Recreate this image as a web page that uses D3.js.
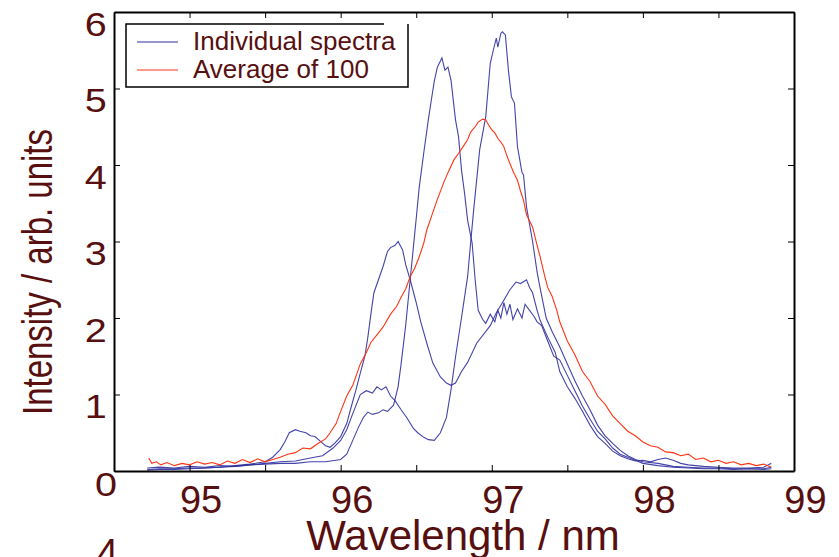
<!DOCTYPE html>
<html>
<head>
<meta charset="utf-8">
<script src="https://cdn.jsdelivr.net/npm/d3@7"></script>
<style>
  body { margin: 0; background: #fff; }
  svg text { font-family: "Liberation Sans", Arial, sans-serif; }
</style>
</head>
<body>
<div id="chart"></div>
<script>
// wavelength (nm), intensity (arb. units)
const spectrum1 = [
  [94.72,0.02],[94.8,0.03],[94.9,0.03],[95.0,0.04],[95.1,0.04],[95.2,0.05],[95.3,0.06],[95.4,0.08],
  [95.5,0.1],[95.6,0.12],[95.7,0.13],[95.8,0.17],[95.88,0.2],[95.95,0.3],[96.0,0.4],[96.04,0.54],
  [96.08,0.75],[96.13,1.0],[96.17,1.05],[96.21,1.02],[96.24,1.1],[96.27,1.06],[96.3,1.1],[96.33,0.98],
  [96.36,0.92],[96.4,0.8],[96.44,0.69],[96.48,0.56],[96.51,0.5],[96.55,0.44],[96.58,0.41],[96.62,0.4],
  [96.66,0.5],[96.7,0.7],[96.73,1.06],[96.76,1.49],[96.8,2.01],[96.84,2.54],[96.86,2.98],[96.88,3.41],
  [96.92,4.2],[96.96,4.63],[96.99,5.33],[97.01,5.5],[97.03,5.66],[97.04,5.54],[97.06,5.72],[97.07,5.74],
  [97.09,5.7],[97.11,5.24],[97.13,4.89],[97.15,4.81],[97.17,4.24],[97.2,3.9],[97.21,3.87],[97.23,3.45],
  [97.27,3.0],[97.3,2.6],[97.32,2.39],[97.36,2.0],[97.4,1.82],[97.45,1.62],[97.5,1.4],[97.55,1.18],
  [97.6,0.98],[97.65,0.8],[97.7,0.6],[97.75,0.46],[97.8,0.36],[97.85,0.27],[97.9,0.2],[97.95,0.15],
  [98.0,0.12],[98.1,0.1],[98.2,0.06],[98.3,0.05],[98.4,0.04],[98.5,0.04],[98.6,0.03],[98.7,0.03],
  [98.8,0.03],[98.85,0.05]
];
const spectrum2 = [
  [94.72,0.04],[94.8,0.05],[94.9,0.04],[95.0,0.06],[95.1,0.05],[95.2,0.07],[95.3,0.06],[95.4,0.08],
  [95.5,0.09],[95.6,0.1],[95.7,0.1],[95.8,0.12],[95.9,0.12],[96.0,0.15],[96.04,0.22],[96.08,0.4],
  [96.12,0.58],[96.15,0.7],[96.18,0.77],[96.21,0.74],[96.25,0.76],[96.28,0.8],[96.31,0.78],[96.35,0.86],
  [96.38,1.1],[96.4,1.4],[96.43,1.9],[96.46,2.5],[96.48,2.9],[96.5,3.3],[96.52,3.71],[96.55,4.16],
  [96.58,4.59],[96.6,4.85],[96.62,5.1],[96.64,5.28],[96.67,5.4],[96.69,5.24],[96.71,5.28],[96.73,5.11],
  [96.76,4.59],[96.78,4.37],[96.8,3.93],[96.82,3.63],[96.84,3.28],[96.87,2.98],[96.89,2.5],[96.91,2.1],
  [96.94,1.98],[96.96,1.93],[96.99,2.05],[97.02,1.95],[97.04,2.1],[97.06,2.0],[97.08,2.2],[97.1,2.05],
  [97.12,2.18],[97.14,1.98],[97.17,2.12],[97.2,2.0],[97.22,2.18],[97.25,2.1],[97.28,2.02],[97.3,1.95],
  [97.33,1.9],[97.37,1.7],[97.41,1.5],[97.45,1.45],[97.5,1.25],[97.55,1.05],[97.6,0.85],[97.65,0.68],
  [97.7,0.52],[97.75,0.42],[97.8,0.3],[97.85,0.22],[97.9,0.18],[97.95,0.14],[98.0,0.1],[98.1,0.07],
  [98.2,0.05],[98.3,0.04],[98.4,0.03],[98.5,0.03],[98.6,0.02],[98.7,0.03],[98.8,0.02],[98.85,0.03]
];
const spectrum3 = [
  [94.72,0.01],[94.8,0.02],[94.9,0.02],[95.0,0.03],[95.1,0.04],[95.2,0.05],[95.3,0.07],[95.4,0.09],
  [95.5,0.12],[95.55,0.18],[95.6,0.28],[95.63,0.38],[95.66,0.5],[95.7,0.54],[95.73,0.52],[95.77,0.5],
  [95.8,0.46],[95.83,0.45],[95.87,0.38],[95.9,0.33],[95.93,0.31],[95.96,0.36],[96.0,0.45],[96.04,0.62],
  [96.07,0.84],[96.1,1.05],[96.13,1.28],[96.16,1.5],[96.18,1.75],[96.2,2.05],[96.22,2.33],[96.25,2.5],
  [96.28,2.67],[96.31,2.87],[96.33,2.92],[96.36,2.95],[96.38,3.0],[96.41,2.89],[96.43,2.7],[96.46,2.5],
  [96.5,2.2],[96.53,1.95],[96.57,1.67],[96.61,1.41],[96.66,1.23],[96.7,1.15],[96.73,1.12],[96.76,1.15],
  [96.8,1.3],[96.84,1.42],[96.9,1.67],[96.99,1.9],[97.03,2.07],[97.07,2.2],[97.12,2.37],[97.16,2.47],
  [97.19,2.45],[97.23,2.5],[97.25,2.4],[97.27,2.33],[97.3,2.1],[97.32,1.97],[97.37,1.75],[97.42,1.55],
  [97.45,1.3],[97.5,1.1],[97.55,0.95],[97.6,0.78],[97.65,0.6],[97.7,0.45],[97.75,0.36],[97.8,0.26],
  [97.85,0.2],[97.9,0.16],[97.95,0.13],[98.0,0.14],[98.05,0.12],[98.1,0.15],[98.15,0.17],[98.2,0.14],
  [98.25,0.1],[98.3,0.08],[98.4,0.06],[98.5,0.05],[98.6,0.04],[98.7,0.04],[98.8,0.05],[98.85,0.1]
];
const average100 = [
  [94.73,0.17],[94.75,0.1],[94.78,0.12],[94.81,0.08],[94.85,0.11],[94.9,0.07],[94.95,0.1],[95.0,0.08],
  [95.05,0.12],[95.1,0.09],[95.15,0.11],[95.2,0.08],[95.25,0.13],[95.3,0.1],[95.35,0.15],[95.4,0.11],
  [95.45,0.16],[95.5,0.12],[95.55,0.15],[95.6,0.18],[95.65,0.22],[95.7,0.24],[95.75,0.3],[95.8,0.29],
  [95.85,0.36],[95.9,0.42],[95.93,0.5],[95.97,0.62],[96.0,0.78],[96.04,0.98],[96.08,1.12],[96.13,1.4],
  [96.17,1.55],[96.2,1.68],[96.24,1.78],[96.28,1.88],[96.33,2.05],[96.37,2.15],[96.4,2.27],[96.43,2.38],
  [96.46,2.54],[96.49,2.65],[96.52,2.8],[96.55,2.98],[96.57,3.15],[96.61,3.38],[96.64,3.55],[96.68,3.76],
  [96.71,3.9],[96.75,4.07],[96.78,4.15],[96.81,4.24],[96.84,4.33],[96.86,4.43],[96.89,4.5],[96.91,4.56],
  [96.94,4.6],[96.96,4.59],[96.98,4.52],[97.0,4.46],[97.02,4.42],[97.04,4.35],[97.06,4.3],[97.08,4.24],
  [97.1,4.12],[97.13,3.97],[97.15,3.88],[97.17,3.8],[97.19,3.66],[97.21,3.54],[97.23,3.35],[97.27,3.19],
  [97.3,2.95],[97.32,2.8],[97.35,2.55],[97.37,2.4],[97.4,2.28],[97.43,2.1],[97.45,1.95],[97.5,1.7],
  [97.55,1.52],[97.6,1.3],[97.65,1.17],[97.7,0.98],[97.75,0.87],[97.8,0.72],[97.85,0.62],[97.9,0.52],
  [97.95,0.46],[98.0,0.38],[98.05,0.33],[98.1,0.31],[98.15,0.25],[98.2,0.24],[98.25,0.2],[98.3,0.22],
  [98.35,0.15],[98.4,0.17],[98.45,0.12],[98.5,0.14],[98.55,0.1],[98.6,0.12],[98.65,0.08],[98.7,0.1],
  [98.75,0.07],[98.8,0.09],[98.85,0.05]
];
const xTicks = [94.5, 95, 95.5, 96, 96.5, 97, 97.5, 98, 98.5, 99];
const yTicks = [0, 1, 2, 3, 4, 5, 6];
const legendLabels = ["Individual spectra", "Average of 100"];

const W = 839, H = 557;
const textColor = "#570f0f";
const blue = "#3030a0";
const red = "#ff3414";

const svg = d3.select("#chart").append("svg")
  .attr("width", W).attr("height", H);

const x = d3.scaleLinear().domain([94.5, 99]).range([114, 794]);
const y = d3.scaleLinear().domain([0, 6]).range([471, 12]);

// spectra
const line = d3.line().x(d => x(d[0])).y(d => y(d[1]));
[spectrum1, spectrum2, spectrum3].forEach(s => {
  svg.append("path").datum(s)
    .attr("d", line).attr("fill", "none")
    .attr("stroke", blue).attr("stroke-width", 1.1).attr("stroke-opacity", 0.9);
});
svg.append("path").datum(average100)
  .attr("d", line).attr("fill", "none")
  .attr("stroke", red).attr("stroke-width", 1.1);

// axes with inward ticks
const bottomAxis = svg.append("g").attr("transform", "translate(0,471)")
  .call(d3.axisBottom(x).tickValues(xTicks).tickSize(-6).tickSizeOuter(0)
    .tickFormat(d => Number.isInteger(d) ? d : ""));
svg.append("g").attr("transform", "translate(0,12)")
  .call(d3.axisTop(x).tickValues(xTicks).tickSize(-6).tickSizeOuter(0).tickFormat(""));
const leftAxis = svg.append("g").attr("transform", "translate(114,0)")
  .call(d3.axisLeft(y).tickValues(yTicks).tickSize(-6).tickSizeOuter(0).tickFormat(d3.format("d")));
svg.append("g").attr("transform", "translate(794,0)")
  .call(d3.axisRight(y).tickValues(yTicks).tickSize(-6).tickSizeOuter(0).tickFormat(""));

svg.selectAll(".domain").attr("stroke", "#000").attr("stroke-width", 2);
svg.selectAll(".tick line").attr("stroke", "#000").attr("stroke-width", 1);

bottomAxis.selectAll(".tick text")
  .attr("y", 42).attr("dy", null).attr("dx", 11)
  .attr("font-size", 38).attr("fill", textColor);
// the source digits on the y axis are drawn a little wider
leftAxis.selectAll(".tick text")
  .attr("x", -6).attr("dy", "0.7em")
  .attr("font-size", 33).attr("fill", textColor)
  .attr("transform", "scale(1.2,1)")
  .filter(d => d === 0).attr("x", 2.5).attr("dy", "0.75em");

// axis titles
svg.append("text")
  .attr("x", 463).attr("y", 550).attr("text-anchor", "middle")
  .attr("font-size", 42).attr("fill", textColor)
  .text("Wavelength / nm");
svg.append("text")
  .attr("transform", "translate(52,272) rotate(-90) scale(1,1.27)")
  .attr("text-anchor", "middle")
  .attr("font-size", 33).attr("fill", textColor)
  .text("Intensity / arb. units");
// cut-off fragment at the bottom edge
svg.append("text")
  .attr("x", 97).attr("y", 566)
  .attr("font-size", 38).attr("fill", textColor)
  .text("4");

// legend (top edge stops short of the right border, as in the source)
const lg = svg.append("g");
lg.append("rect").attr("x", 126).attr("y", 24).attr("width", 282).attr("height", 63)
  .attr("fill", "#fff").attr("stroke", "none");
lg.append("path")
  .attr("d", "M384,24H126V87H408V24")
  .attr("fill", "none").attr("stroke", "#000").attr("stroke-width", 1.5);
[blue, red].forEach((c, i) => {
  lg.append("line").attr("x1", 137).attr("x2", 178)
    .attr("y1", 42 + i * 28).attr("y2", 42 + i * 28)
    .attr("stroke", c).attr("stroke-width", 1.2);
  lg.append("text").attr("x", 193).attr("y", 50 + i * 28)
    .attr("font-size", 26).attr("fill", textColor)
    .text(legendLabels[i]);
});
</script>
</body>
</html>
